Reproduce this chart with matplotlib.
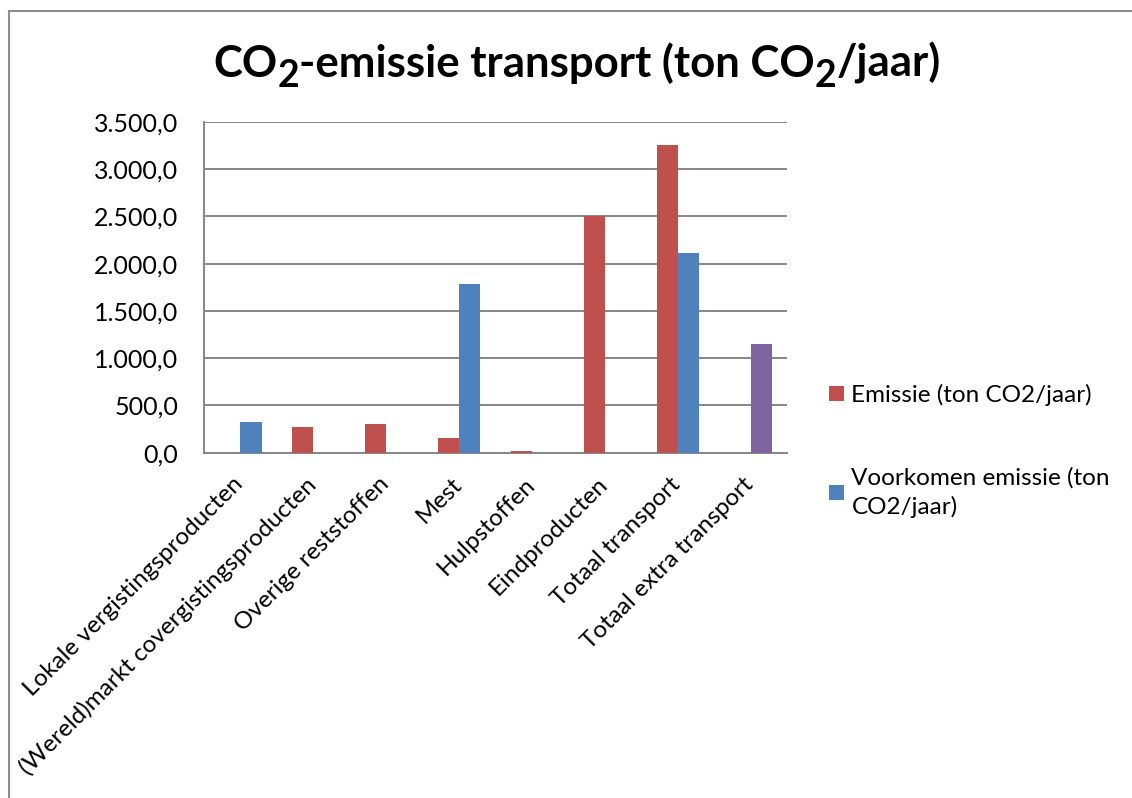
import matplotlib
matplotlib.use("Agg")
import matplotlib.pyplot as plt
import numpy as np
from matplotlib.ticker import FuncFormatter
from matplotlib.lines import Line2D
from matplotlib.transforms import ScaledTranslation

# Data
categories = [
    "Lokale vergistingsproducten",
    "(Wereld)markt covergistingsproducten",
    "Overige reststoffen",
    "Mest",
    "Hulpstoffen",
    "Eindproducten",
    "Totaal transport",
    "Totaal extra transport",
]
emissie = [0, 275, 305, 160, 15, 2505, 3260, 0]
voorkomen = [320, 0, 0, 1790, 0, 0, 2110, 1150]
series_names = ["Emissie (ton CO2/jaar)", "Voorkomen emissie (ton\nCO2/jaar)"]
y_ticks = [0, 500, 1000, 1500, 2000, 2500, 3000, 3500]
title_parts = [("CO", False), ("2", True), ("-emissie transport (ton CO", False),
               ("2", True), ("/jaar)", False)]

RED = "#C0504D"
BLUE = "#4F81BD"
PURPLE = "#8064A2"
GRID = "#868686"
W_PX, H_PX = 1132, 798

plt.rcParams["font.family"] = ["Lato", "DejaVu Sans"]

fig = plt.figure(figsize=(W_PX / 100, H_PX / 100), dpi=100)
ax = fig.add_axes([0.1802, 0.4327, 0.5150, 0.4144])

x = np.arange(len(categories))
w = 0.29
blue_colors = [BLUE] * (len(categories) - 1) + [PURPLE]
b1 = ax.bar(x - w / 2, emissie, width=w, color=RED, linewidth=0, zorder=3)
b2 = ax.bar(x + w / 2, voorkomen, width=w, color=blue_colors, linewidth=0, zorder=3)

ax.set_xlim(-0.5, len(categories) - 0.5)
ax.set_ylim(0, 3500)
ax.set_yticks(y_ticks)


def nl_fmt(v, _pos):
    s = f"{v:,.1f}"
    return s.replace(",", "X").replace(".", ",").replace("X", ".")


ax.yaxis.set_major_formatter(FuncFormatter(nl_fmt))
ax.grid(axis="y", color=GRID, linewidth=1.4, zorder=0)
ax.set_axisbelow(True)

for side in ["top", "right"]:
    ax.spines[side].set_visible(False)
for side in ["left", "bottom"]:
    ax.spines[side].set_color(GRID)
    ax.spines[side].set_linewidth(1.4)

ax.tick_params(axis="y", length=0, pad=18.7, labelsize=18)
ax.tick_params(axis="x", length=0, pad=15.0, labelsize=17.5)
ax.set_xticks(x)
ax.set_xticklabels(categories, rotation=45, ha="right", va="top",
                   rotation_mode="anchor")
shift = ScaledTranslation(-8 / 100, 0, fig.dpi_scale_trans)
for lab in ax.get_xticklabels():
    lab.set_transform(lab.get_transform() + shift)

# Title built from pieces so the subscripts sit low and large
renderer = fig.canvas.get_renderer()
main_size, sub_size = 31.5, 27
baseline_px = 77
sub_drop_px = 10
widths = []
for txt, is_sub in title_parts:
    t = fig.text(0, 0, txt, fontsize=sub_size if is_sub else main_size,
                 fontweight="bold")
    widths.append(t.get_window_extent(renderer).width)
    t.remove()
cursor = 577 - sum(widths) / 2
for (txt, is_sub), wd in zip(title_parts, widths):
    y_px = baseline_px + (sub_drop_px if is_sub else 0)
    fig.text(cursor / W_PX, 1 - y_px / H_PX, txt,
             fontsize=sub_size if is_sub else main_size, fontweight="bold",
             ha="left", va="baseline")
    cursor += wd

# Legend
leg = fig.legend(handles=[b1, b2], labels=series_names,
                 loc="upper left", bbox_to_anchor=(0.7217, 0.534),
                 frameon=False, fontsize=17.5, handlelength=0.62,
                 handleheight=0.62, handletextpad=0.3, labelspacing=2.5,
                 borderpad=0)
leg.legend_handles[1].set_color(BLUE)
for t in leg.get_texts():
    t.set_linespacing(1.42)

# Chart border
fig.add_artist(Line2D([8.5 / W_PX, 8.5 / W_PX], [0, 1 - 10.5 / H_PX],
                      transform=fig.transFigure, color="#8C8C8C", linewidth=1.5))
fig.add_artist(Line2D([8.5 / W_PX, 1], [1 - 10.5 / H_PX, 1 - 10.5 / H_PX],
                      transform=fig.transFigure, color="#8C8C8C", linewidth=1.5))

fig.savefig("out.png", dpi=100)
